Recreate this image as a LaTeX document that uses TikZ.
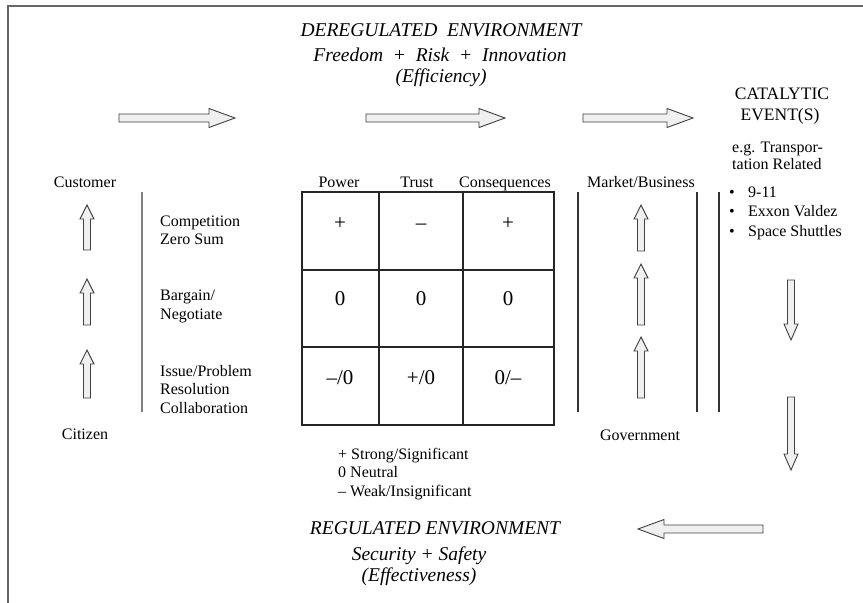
\documentclass[tikz,border=0pt]{standalone}
\usepackage{fontspec}
\setmainfont{Liberation Serif}
\newcommand\blkUp[3]{% x, y of tip, y of tail
  \draw[blk] (#1-3.5,#3) -- (#1-3.5,#2+14) -- (#1-7,#2+14) -- (#1,#2) -- (#1+7,#2+14) -- (#1+3.5,#2+14) -- (#1+3.5,#3) -- cycle;}
\newcommand\blkDown[3]{% x, y of tail, y of tip
  \draw[blk] (#1-3.5,#2) -- (#1-3.5,#3-16) -- (#1-7,#3-16) -- (#1,#3) -- (#1+7,#3-16) -- (#1+3.5,#3-16) -- (#1+3.5,#2) -- cycle;}
\newcommand\blkRight[3]{% x of tail, x of tip, y
  \draw[blk] (#1,#3-4) -- (#2-26,#3-4) -- (#2-26,#3-9.5) -- (#2,#3) -- (#2-26,#3+9.5) -- (#2-26,#3+4) -- (#1,#3+4) -- cycle;}
\newcommand\blkLeft[3]{% x of tip, x of tail, y
  \draw[blk] (#2,#3-4) -- (#1+26,#3-4) -- (#1+26,#3-9.5) -- (#1,#3) -- (#1+26,#3+9.5) -- (#1+26,#3+4) -- (#2,#3+4) -- cycle;}
\begin{document}
\begin{tikzpicture}[x=1pt,y=-1pt,
  txt/.style={inner sep=0pt, font=\fontsize{16}{18}\selectfont, text height=11.5pt, text depth=3.5pt},
  hd/.style={inner sep=0pt, font=\fontsize{19.5}{22}\selectfont\itshape, text height=13.5pt, text depth=4.5pt},
  cat/.style={inner sep=0pt, font=\fontsize{17.5}{20}\selectfont, text height=12.5pt, text depth=3.5pt},
  val/.style={inner sep=0pt, font=\fontsize{21}{24}\selectfont, text height=14.5pt, text depth=0pt},
  blk/.style={draw=black!75, fill=gray!12, line width=0.9pt, line join=miter},
  rule/.style={draw=black!80, line width=1.3pt},
  grid/.style={draw=black!85, line width=1.4pt}]
\useasboundingbox (0,0) rectangle (863,603);
% frame
\draw[draw=black!60, line width=2.2pt] (8,603) -- (8,6) -- (863,6);
% headings
\node[hd] (dereg) at (441,32) {DEREGULATED\ \ ENVIRONMENT};
\node[hd] (freedom) at (440,57) {Freedom \ + \ Risk \ + \ Innovation};
\node[hd] (effic) at (441,78) {(Efficiency)};
\node[hd] (reg) at (435,530) {REGULATED ENVIRONMENT};
\node[hd] (secur) at (419,556) {Security + Safety};
\node[hd] (effect) at (419,577) {(Effectiveness)};
% catalytic events
\node[cat] (catal) at (782,95) {CATALYTIC};
\node[cat] (event) at (780,116) {EVENT(S)};
\node[txt,anchor=west] (eg1) at (732,148) {e.g. Transpor-};
\node[txt,anchor=west] (eg2) at (732,165) {tation Related};
\node[txt,anchor=west] (b1) at (729,193) {\makebox[19pt][l]{\textbullet}9-11};
\node[txt,anchor=west] (b2) at (729,212) {\makebox[19pt][l]{\textbullet}Exxon Valdez};
\node[txt,anchor=west] (b3) at (729,232) {\makebox[19pt][l]{\textbullet}Space Shuttles};
% left column
\node[txt] (customer) at (85,183) {Customer};
\node[txt] (citizen) at (85,435) {Citizen};
\node[txt,anchor=west] (comp1) at (160,222) {Competition};
\node[txt,anchor=west] (comp2) at (160,240) {Zero Sum};
\node[txt,anchor=west] (barg1) at (160,296) {Bargain/};
\node[txt,anchor=west] (barg2) at (160,315) {Negotiate};
\node[txt,anchor=west] (iss1) at (160,372) {Issue/Problem};
\node[txt,anchor=west] (iss2) at (160,390) {Resolution};
\node[txt,anchor=west] (iss3) at (160,409) {Collaboration};
% table headers
\node[txt] (power) at (339,183) {Power};
\node[txt] (trust) at (417,183) {Trust};
\node[txt] (conseq) at (505,183) {Consequences};
\node[txt] (market) at (641,183) {Market/Business};
\node[txt] (govt) at (640,436) {Government};
% grid
\draw[grid] (302,192) rectangle (554,425);
\draw[grid] (379,192) -- (379,425) (463,192) -- (463,425);
\draw[grid] (302,270) -- (554,270) (302,347) -- (554,347);
% values
\node[val] (v11) at (340,222) {+};
\node[val] (v12) at (421,222) {–};
\node[val] (v13) at (508,222) {+};
\node[val] (v21) at (340,298) {0};
\node[val] (v22) at (421,298) {0};
\node[val] (v23) at (508,298) {0};
\node[val] (v31) at (340,377) {–/0};
\node[val] (v32) at (421,377) {+/0};
\node[val] (v33) at (508,377) {0/–};
% legend
\node[txt,anchor=west] (leg1) at (338,455) {+ Strong/Significant};
\node[txt,anchor=west] (leg2) at (338,473) {0 Neutral};
\node[txt,anchor=west] (leg3) at (338,492) {– Weak/Insignificant};
% vertical rules
\draw[draw=black!50, line width=1.3pt] (142,192) -- (142,412);
\draw[rule] (578,192) -- (578,412);
\draw[rule] (697,192) -- (697,412);
\draw[rule] (719,192) -- (719,412);
% arrows
\blkRight{119}{235}{118}
\blkRight{366}{505}{118}
\blkRight{583}{693}{118}
\blkLeft{638}{763}{529}
\blkUp{87}{205}{250}
\blkUp{87}{279}{325}
\blkUp{87}{350}{398}
\blkUp{641}{205}{251}
\blkUp{641}{264}{325}
\blkUp{641}{337}{398}
\blkDown{791}{280}{340}
\blkDown{791}{397}{470}
\end{tikzpicture}
\end{document}
